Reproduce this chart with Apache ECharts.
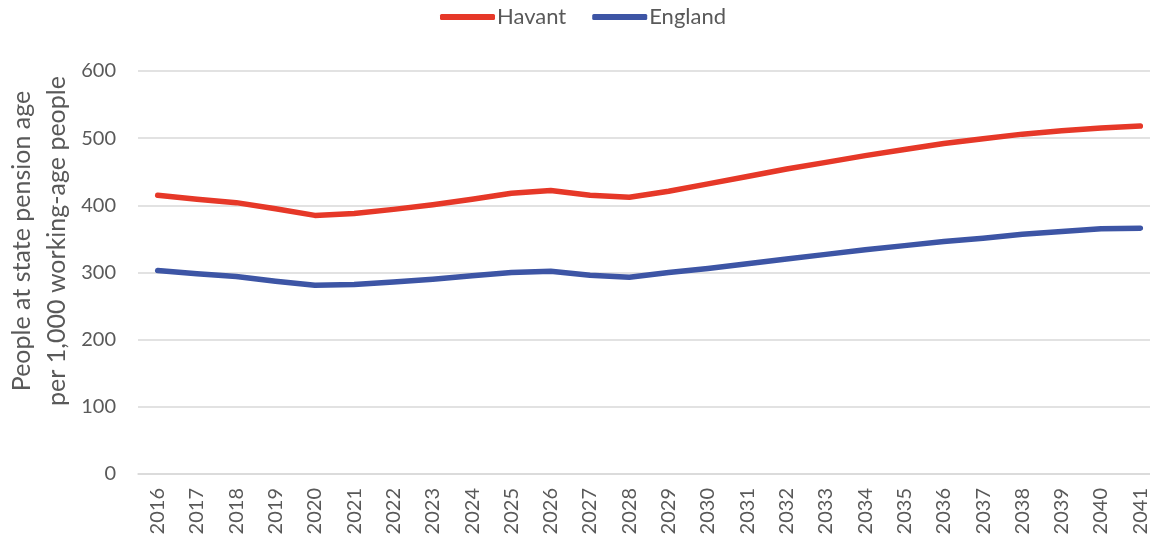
<!DOCTYPE html>
<html>
<head>
<meta charset="utf-8">
<title>Old-age dependency ratio</title>
<script src="https://cdn.jsdelivr.net/npm/echarts@6/dist/echarts.min.js"></script>
<style>
  html, body { margin: 0; padding: 0; background: #fff; }
  #chart { width: 1150px; height: 540px; }
</style>
</head>
<body>
<div id="chart"></div>
<script>
// Years shown along the horizontal axis
const years = ['2016','2017','2018','2019','2020','2021','2022','2023','2024','2025','2026','2027','2028',
               '2029','2030','2031','2032','2033','2034','2035','2036','2037','2038','2039','2040','2041'];

// People at state pension age per 1,000 working-age people
const havant = [415, 409, 404, 395, 385, 388, 394, 401, 409, 418, 422, 415, 412,
                421, 432, 443, 454, 464, 474, 483, 492, 499, 506, 511, 515, 518];
const england = [303, 298, 294, 287, 281, 282, 286, 290, 295, 300, 302, 296, 293,
                 300, 306, 313, 320, 327, 334, 340, 346, 351, 357, 361, 365, 366];

const seriesNames = ['Havant', 'England'];
const seriesColors = ['#E63828', '#3D55A5'];
const yTitle = 'People at state pension age\nper 1,000 working-age people';

const FONT = 'Lato, "Open Sans", sans-serif';
const TEXT = '#595959';

const chart = echarts.init(document.getElementById('chart'), null, { renderer: 'canvas' });

chart.setOption({
  animation: false,
  color: seriesColors,
  legend: {
    top: 6,
    left: 440,
    padding: 0,
    itemWidth: 55,
    itemHeight: 6,
    itemGap: 26,
    icon: 'roundRect',
    textStyle: { fontFamily: FONT, fontSize: 22, color: TEXT, padding: [0, 0, 0, -3] },
    data: seriesNames
  },
  grid: { left: 138, width: 1022, top: 71, height: 403, containLabel: false, outerBoundsMode: 'none' },
  xAxis: {
    type: 'category',
    data: years,
    boundaryGap: true,
    axisLine: { show: true, lineStyle: { color: '#d9d9d9', width: 1.5 } },
    axisTick: { show: false },
    axisLabel: {
      rotate: 90,
      margin: 14,
      fontFamily: FONT,
      fontSize: 20,
      color: TEXT
    }
  },
  yAxis: {
    type: 'value',
    min: 0,
    max: 600,
    interval: 100,
    axisLine: { show: false },
    axisTick: { show: false },
    splitLine: { lineStyle: { color: '#d9d9d9', width: 1.5 } },
    axisLabel: { margin: 22, fontFamily: FONT, fontSize: 20, color: TEXT }
  },
  graphic: [{
    type: 'text',
    x: 39,
    y: 241,
    rotation: Math.PI / 2,
    style: {
      text: yTitle,
      fontFamily: FONT,
      fontSize: 25,
      lineHeight: 35,
      fill: TEXT,
      align: 'center',
      verticalAlign: 'middle'
    }
  }],
  series: [
    {
      name: seriesNames[0],
      type: 'line',
      data: havant,
      symbol: 'none',
      lineStyle: { width: 5.5, cap: 'round', join: 'round' }
    },
    {
      name: seriesNames[1],
      type: 'line',
      data: england,
      symbol: 'none',
      lineStyle: { width: 5.5, cap: 'round', join: 'round' }
    }
  ]
});
</script>
</body>
</html>
